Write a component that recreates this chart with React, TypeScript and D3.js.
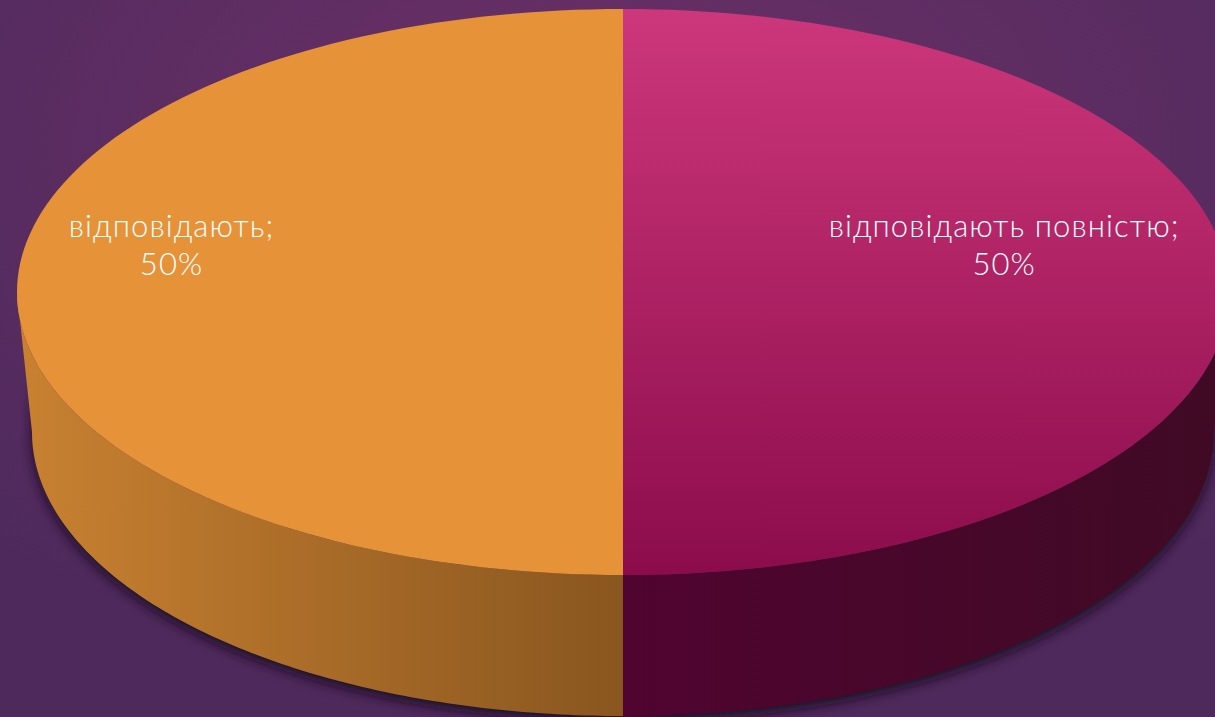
import {useEffect, useRef} from 'react';
import * as d3 from 'd3';

// chart data
const categories = ['відповідають повністю', 'відповідають'];
const values = [50, 50];
const topColors = [['#CD377B', '#8C0C4B'], ['#E59239', '#E59239']];
const sideColors = [['#500430', '#3F0A24'], ['#C98131', '#89561F']];

const W = 1215;
const H = 717;

const App = () => {
  const svgRef = useRef<SVGSVGElement>(null);

  useEffect(() => {
    const svg = d3.select(svgRef.current);
    svg.selectAll('*').remove();

    // pie geometry (top face ellipse + depth)
    const cx = 623, cy = 292, rx = 606, ry = 283;
    const bcx = 623, bcy = 432, brx = 591, bry = 284;

    const defs = svg.append('defs');

    const bg = defs.append('radialGradient').attr('id', 'bg')
      .attr('cx', '50%').attr('cy', '20%').attr('r', '75%');
    bg.append('stop').attr('offset', '0%').attr('stop-color', '#6C3068');
    bg.append('stop').attr('offset', '100%').attr('stop-color', '#4E2A5C');

    const shadow = defs.append('filter').attr('id', 'shadow')
      .attr('x', '-10%').attr('y', '-10%').attr('width', '120%').attr('height', '130%');
    shadow.append('feGaussianBlur').attr('stdDeviation', 6);

    svg.append('rect').attr('width', W).attr('height', H).attr('fill', 'url(#bg)');

    const pie = d3.pie<number>().sort(null).value(d => d);
    const arcs = pie(values);

    const topPt = (a: number) => [cx + rx * Math.sin(a), cy - ry * Math.cos(a)];
    const botPt = (a: number) => [bcx + brx * Math.sin(a), bcy - bry * Math.cos(a)];
    const sample = (a0: number, a1: number, f: (a: number) => number[]) =>
      d3.range(0, 121).map(i => f(a0 + (a1 - a0) * i / 120));
    const line = d3.line();

    // shadow below the body
    svg.append('path')
      .attr('d', line(sample(Math.PI / 2, Math.PI * 1.5, botPt).map(([x, y]) => [x, y + 6])
        .concat(sample(Math.PI * 1.5, Math.PI / 2, botPt).map(([x, y]) => [x, y - 60])) as [number, number][]) + 'Z')
      .attr('fill', '#1E0D22')
      .attr('opacity', 0.9)
      .attr('filter', 'url(#shadow)');

    arcs.forEach((d, i) => {
      const sg = defs.append('linearGradient').attr('id', `side${i}`)
        .attr('gradientUnits', 'userSpaceOnUse')
        .attr('x1', i === 0 ? cx : cx - rx).attr('x2', i === 0 ? cx + rx : cx)
        .attr('y1', 0).attr('y2', 0);
      sg.append('stop').attr('offset', '0%').attr('stop-color', sideColors[i][0]);
      sg.append('stop').attr('offset', '100%').attr('stop-color', sideColors[i][1]);

      const tg = defs.append('linearGradient').attr('id', `top${i}`)
        .attr('gradientUnits', 'userSpaceOnUse')
        .attr('x1', 0).attr('x2', 0).attr('y1', cy - ry).attr('y2', cy + ry);
      tg.append('stop').attr('offset', '0%').attr('stop-color', topColors[i][0]);
      tg.append('stop').attr('offset', '100%').attr('stop-color', topColors[i][1]);

      // visible side wall (front half only)
      const s0 = Math.max(d.startAngle, Math.PI / 2);
      const s1 = Math.min(d.endAngle, Math.PI * 1.5);
      if (s1 > s0) {
        const pts = sample(s0, s1, topPt).concat(sample(s1, s0, botPt)) as [number, number][];
        svg.append('path').attr('d', line(pts) + 'Z').attr('fill', `url(#side${i})`);
      }
    });

    arcs.forEach((d, i) => {
      const pts = [[cx, cy]].concat(sample(d.startAngle, d.endAngle, topPt)) as [number, number][];
      svg.append('path').attr('d', line(pts) + 'Z').attr('fill', `url(#top${i})`);
    });

    // labels (radial factor differs per side, as in the original layout)
    const labelR = [0.629, 0.745];
    arcs.forEach((d, i) => {
      const mid = (d.startAngle + d.endAngle) / 2;
      const lx = cx + rx * labelR[i] * Math.sin(mid);
      const ly = cy - 55;
      const t = svg.append('text')
        .attr('x', lx).attr('y', ly)
        .attr('text-anchor', 'middle')
        .style('font-family', 'Lato, "Noto Sans", sans-serif')
        .style('font-weight', 300)
        .style('font-size', '31px')
        .style('letter-spacing', '1.1px')
        .style('fill', 'white');
      t.append('tspan').attr('x', lx).text(categories[i] + ';');
      t.append('tspan').attr('x', lx).attr('dy', 38).text(`${d.data}%`);
    });
  }, []);

  return <svg ref={svgRef} width={W} height={H} style={{display: 'block', position: 'absolute', left: 0, top: 0}} />;
};

export default App;
